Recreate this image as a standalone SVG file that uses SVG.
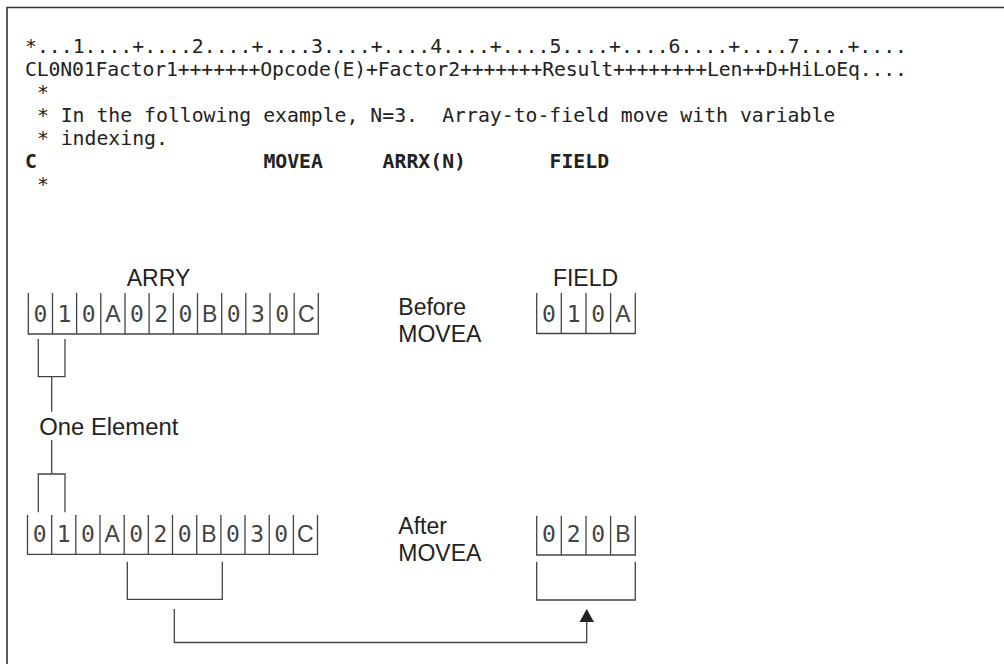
<svg xmlns="http://www.w3.org/2000/svg" width="1004" height="664" viewBox="0 0 1004 664">
<defs>
<style>
.code{font-family:"DejaVu Sans Mono","Liberation Mono",monospace;font-size:19.8px;fill:#222;white-space:pre;}
.bold{font-weight:bold;}
.lbl{font-family:"Liberation Sans",Arial,sans-serif;font-size:23px;fill:#222;}
.cell{fill:none;stroke:#444;stroke-width:1.3;}
.d{font-family:"DejaVu Sans Mono",monospace;font-size:23px;fill:#444;text-anchor:middle;}
.l{font-family:"Liberation Sans",Arial,sans-serif;font-size:23px;fill:#444;text-anchor:middle;}
.ln{fill:none;stroke:#444;stroke-width:1.3;}
</style>
</defs>
<rect width="1004" height="664" fill="#fff"/>
<path d="M7,664 V7.5 H1004" fill="none" stroke="#333" stroke-width="1.6"/>
<g id="code">
<text class="code" x="25" y="53" textLength="882" lengthAdjust="spacing">*...1....+....2....+....3....+....4....+....5....+....6....+....7....+....</text>
<text class="code" x="25" y="76" textLength="882" lengthAdjust="spacing">CL0N01Factor1+++++++Opcode(E)+Factor2+++++++Result++++++++Len++D+HiLoEq....</text>
<text class="code" x="36.9" y="99">*</text>
<text class="code" x="36.9" y="122">* In the following example, N=3.</text>
<text class="code" x="442.2" y="122">Array-to-field move with variable</text>
<text class="code" x="36.9" y="145">* indexing.</text>
<text class="code bold" x="25" y="168">C</text>
<text class="code bold" x="263.4" y="168">MOVEA</text>
<text class="code bold" x="382.6" y="168">ARRX(N)</text>
<text class="code bold" x="549.5" y="168">FIELD</text>
<text class="code" x="36.9" y="191">*</text>
</g>
<g id="arry-before">
<text class="lbl" x="158.5" y="286" text-anchor="middle">ARRY</text>
<path class="cell" d="M28.3,293 V334 H318.3 V293 M52.5,293 V334 M76.6,293 V334 M100.8,293 V334 M125,293 V334 M149.1,293 V334 M173.3,293 V334 M197.5,293 V334 M221.7,293 V334 M245.8,293 V334 M270,293 V334 M294.2,293 V334"/>
<text class="d" x="40.4" y="322">0</text>
<text class="d" x="64.5" y="322">1</text>
<text class="d" x="88.7" y="322">0</text>
<text class="l" x="112.9" y="322">A</text>
<text class="d" x="137" y="322">0</text>
<text class="d" x="161.2" y="322">2</text>
<text class="d" x="185.4" y="322">0</text>
<text class="l" x="209.6" y="322">B</text>
<text class="d" x="233.7" y="322">0</text>
<text class="d" x="257.9" y="322">3</text>
<text class="d" x="282.1" y="322">0</text>
<text class="l" x="306.2" y="322">C</text>
</g>
<g id="before-label">
<text class="lbl" x="398.3" y="315">Before</text>
<text class="lbl" x="398.3" y="341.7">MOVEA</text>
</g>
<g id="field-before">
<text class="lbl" x="585.5" y="286" text-anchor="middle">FIELD</text>
<path class="cell" d="M536.7,293 V333.5 H635.3 V293 M561.3,293 V333.5 M586,293 V333.5 M610.6,293 V333.5"/>
<text class="d" x="549" y="321.5">0</text>
<text class="d" x="573.6" y="321.5">1</text>
<text class="d" x="598.3" y="321.5">0</text>
<text class="l" x="623" y="321.5">A</text>
</g>
<g id="one-element">
<text class="lbl" x="39.3" y="435" textLength="139" lengthAdjust="spacingAndGlyphs">One Element</text>
</g>
<g id="arry-after">
<path class="cell" d="M27.5,515 V554.3 H317.5 V515 M51.7,515 V554.3 M75.8,515 V554.3 M100,515 V554.3 M124.2,515 V554.3 M148.3,515 V554.3 M172.5,515 V554.3 M196.7,515 V554.3 M220.9,515 V554.3 M245,515 V554.3 M269.2,515 V554.3 M293.4,515 V554.3"/>
<text class="d" x="39.6" y="542.3">0</text>
<text class="d" x="63.7" y="542.3">1</text>
<text class="d" x="87.9" y="542.3">0</text>
<text class="l" x="112.1" y="542.3">A</text>
<text class="d" x="136.2" y="542.3">0</text>
<text class="d" x="160.4" y="542.3">2</text>
<text class="d" x="184.6" y="542.3">0</text>
<text class="l" x="208.8" y="542.3">B</text>
<text class="d" x="232.9" y="542.3">0</text>
<text class="d" x="257.1" y="542.3">3</text>
<text class="d" x="281.3" y="542.3">0</text>
<text class="l" x="305.4" y="542.3">C</text>
</g>
<g id="after-label">
<text class="lbl" x="398.3" y="534">After</text>
<text class="lbl" x="398.3" y="560.7">MOVEA</text>
</g>
<g id="field-after">
<path class="cell" d="M536.7,515.7 V555 H635.3 V515.7 M561.3,515.7 V555 M586,515.7 V555 M610.6,515.7 V555"/>
<text class="d" x="549" y="542">0</text>
<text class="d" x="573.6" y="542">2</text>
<text class="d" x="598.3" y="542">0</text>
<text class="l" x="623" y="542">B</text>
</g>
<g id="connectors">
<path class="ln" d="M38.3,339 V376.7 H65 V339 M51.7,376.7 V411.7"/>
<path class="ln" d="M51.7,440 V474 M38.3,512.3 V474 H65 V512.3"/>
<path class="ln" d="M127.3,561.7 V599.3 H222.3 V561.7"/>
<path class="ln" d="M536.7,561.7 V600 H635.3 V561.7"/>
<path class="ln" d="M174.3,609 V642.5 H586.7 V620"/>
<polygon points="586.7,609 579.5,622 594,622" fill="#222"/>
</g>
</svg>
